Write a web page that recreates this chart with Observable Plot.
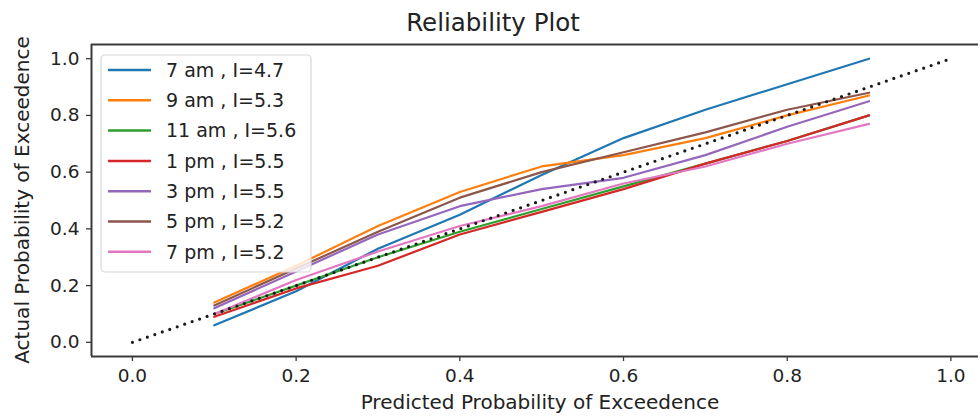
<!DOCTYPE html>
<html>
<head>
<meta charset="utf-8">
<script src="https://cdn.jsdelivr.net/npm/d3@7"></script>
<script src="https://cdn.jsdelivr.net/npm/@observablehq/plot@0.6"></script>
<style>
  html, body { margin: 0; padding: 0; background: #fff; }
  #chart { width: 980px; height: 416px; overflow: hidden; }
  svg { font-family: "DejaVu Sans", sans-serif; }
</style>
</head>
<body>
<div id="chart"></div>
<script>
// ---- data ----
const predicted = [0.1, 0.2, 0.3, 0.4, 0.5, 0.6, 0.7, 0.8, 0.9];
const seriesLabels = ["7 am , I=4.7", "9 am , I=5.3", "11 am , I=5.6", "1 pm , I=5.5", "3 pm , I=5.5", "5 pm , I=5.2", "7 pm , I=5.2"];
const am7  = [0.06, 0.18, 0.33, 0.45, 0.59, 0.72, 0.82, 0.91, 1.00];
const am9  = [0.14, 0.27, 0.41, 0.53, 0.62, 0.66, 0.72, 0.80, 0.87];
const am11 = [0.10, 0.20, 0.30, 0.39, 0.47, 0.55, 0.63, 0.71, 0.80];
const pm1  = [0.09, 0.19, 0.27, 0.38, 0.46, 0.54, 0.63, 0.71, 0.80];
const pm3  = [0.12, 0.25, 0.38, 0.48, 0.54, 0.58, 0.66, 0.76, 0.85];
const pm5  = [0.13, 0.26, 0.39, 0.51, 0.60, 0.67, 0.74, 0.82, 0.88];
const pm7  = [0.10, 0.22, 0.32, 0.41, 0.48, 0.56, 0.62, 0.70, 0.77];
const seriesValues = [am7, am9, am11, pm1, pm3, pm5, pm7];
const colors = ["#1f77b4", "#ff7f0e", "#2ca02c", "#d62728", "#9467bd", "#8c564b", "#e377c2"];
const diagonalX = [0.0, 1.0];
const diagonalY = [0.0, 1.0];
const xTicks = [0.0, 0.2, 0.4, 0.6, 0.8, 1.0];
const yTicks = [0.0, 0.2, 0.4, 0.6, 0.8, 1.0];
const titleText = "Reliability Plot";
const xLabelText = "Predicted Probability of Exceedence";
const yLabelText = "Actual Probability of Exceedence";

// ---- tables built from the arrays ----
const rows = [];
seriesValues.forEach((vals, s) => {
  vals.forEach((v, i) => rows.push({series: seriesLabels[s], x: predicted[i], y: v}));
});
const diag = diagonalX.map((x, i) => ({x, y: diagonalY[i]}));

const W = 980, H = 416;
const fmt = d3.format(".1f");
const axisColor = "#3a3a3a";

const chart = Plot.plot({
  width: W,
  height: H,
  marginLeft: 91,
  marginRight: 2,
  marginTop: 44,
  marginBottom: 60,
  style: {fontFamily: "DejaVu Sans, sans-serif", fontSize: "18.5px", color: "#222", background: "#fff", overflow: "hidden"},
  x: {domain: [-0.05, 1.0337]},
  y: {domain: [-0.05, 1.05]},
  color: {domain: seriesLabels, range: colors},
  marks: [
    Plot.axisX({ticks: xTicks, tickFormat: fmt, tickSize: 5, tickPadding: 7, label: null, stroke: axisColor, strokeWidth: 1.3}),
    Plot.axisY({ticks: yTicks, tickFormat: fmt, tickSize: 5, tickPadding: 7, label: null, stroke: axisColor, strokeWidth: 1.3}),
    Plot.line(rows, {x: "x", y: "y", z: "series", stroke: "series", strokeWidth: 2.2}),
    Plot.line(diag, {x: "x", y: "y", stroke: "#1a1a1a", strokeWidth: 3.2, strokeDasharray: "0 7.9", strokeLinecap: "round"}),
    Plot.ruleY([1.05], {stroke: axisColor, strokeWidth: 2}),
    Plot.ruleY([-0.05], {stroke: axisColor, strokeWidth: 2}),
    Plot.ruleX([-0.05], {stroke: axisColor, strokeWidth: 2})
  ]
});

document.getElementById("chart").appendChild(chart);

// ---- title, axis labels, legend ----
const svg = d3.select(chart);
svg.append("text")
  .attr("x", 493).attr("y", 31)
  .attr("text-anchor", "middle")
  .attr("font-size", 24.5).attr("fill", "#222")
  .text(titleText);
svg.append("text")
  .attr("x", 540).attr("y", 409)
  .attr("text-anchor", "middle")
  .attr("font-size", 20).attr("fill", "#222")
  .text(xLabelText);
svg.append("text")
  .attr("transform", "translate(29,200) rotate(-90)")
  .attr("text-anchor", "middle")
  .attr("font-size", 20).attr("fill", "#222")
  .text(yLabelText);

const lg = svg.append("g").attr("text-anchor", "start");
lg.append("rect")
  .attr("x", 101).attr("y", 55).attr("width", 210).attr("height", 217)
  .attr("rx", 4).attr("ry", 4)
  .attr("fill", "#fff").attr("fill-opacity", 0.8)
  .attr("stroke", "#d8d8d8").attr("stroke-width", 1.2);
seriesLabels.forEach((lab, i) => {
  const cy = 70 + i * 30.3;
  lg.append("line")
    .attr("x1", 108).attr("x2", 151).attr("y1", cy).attr("y2", cy)
    .attr("stroke", colors[i]).attr("stroke-width", 2.5);
  lg.append("text")
    .attr("x", 166).attr("y", cy).attr("dy", "0.36em")
    .attr("text-anchor", "start")
    .attr("font-size", 19).attr("fill", "#222")
    .text(lab);
});
</script>
</body>
</html>
